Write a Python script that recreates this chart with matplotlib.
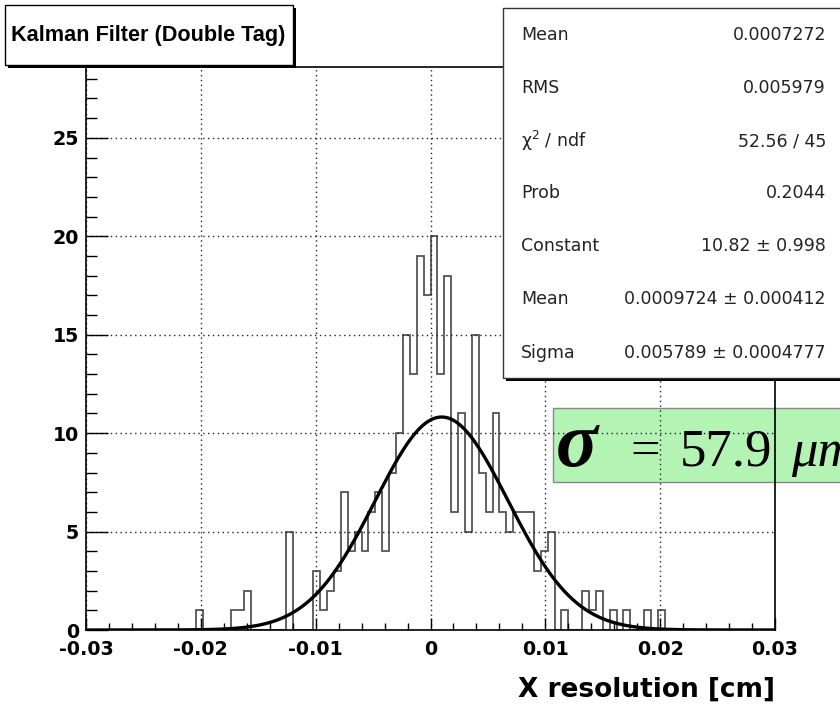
import numpy as np
import matplotlib.pyplot as plt
from matplotlib.patches import Rectangle
from matplotlib.ticker import MultipleLocator

# histogram: 100 bins between -0.03 and 0.03 cm, only the non-empty ones listed
x_lo, x_hi, n_bins = -0.03, 0.03, 100
filled_bins = [16, 21, 22, 23, 29,
               33, 34, 35, 36, 37, 38, 39, 40, 41, 42, 43, 44,
               45, 46, 47, 48, 49, 50, 51, 52,
               53, 54, 55, 56, 57, 58, 59, 60, 61, 62, 63, 64, 65, 66, 67,
               69, 72, 73, 74, 76, 78, 81, 83]
filled_counts = [1, 1, 1, 2, 5,
                 3, 1, 2, 3, 7, 4, 5, 4, 6, 7, 4, 8,
                 10, 15, 13, 19, 17, 20, 13, 18,
                 6, 11, 5, 15, 8, 6, 11, 6, 5, 6, 6, 6, 3, 4, 5,
                 1, 2, 1, 2, 1, 1, 1, 1]

# gaussian fit result
fit_const = 10.82
fit_mean = 0.0009724
fit_sigma = 0.005789

stat_names = ["Mean", "RMS", "χ$^2$ / ndf", "Prob", "Constant", "Mean", "Sigma"]
stat_values = ["0.0007272", "0.005979", "52.56 / 45", "0.2044",
               "10.82 ± 0.998", "0.0009724 ± 0.000412", "0.005789 ± 0.0004777"]

W, H = 840, 705


def fx(x):
    return x / W


def fy(y):
    return 1 - y / H


def box(fig, x0, y0, x1, y1, shadow=3, z=3, **kw):
    # box given in pixels (top-left origin), ROOT style shadow right/bottom
    if shadow:
        fig.patches.append(Rectangle((fx(x0 + shadow), fy(y1 + shadow)),
                                     (x1 - x0) / W, (y1 - y0) / H,
                                     transform=fig.transFigure, facecolor='black',
                                     edgecolor='none', zorder=z))
    fig.patches.append(Rectangle((fx(x0), fy(y1)), (x1 - x0) / W, (y1 - y0) / H,
                                 transform=fig.transFigure, zorder=z + 0.1, **kw))


counts = np.zeros(n_bins)
counts[filled_bins] = filled_counts
edges = np.linspace(x_lo, x_hi, n_bins + 1)

fig = plt.figure(figsize=(8.4, 7.05), dpi=100)
ax = fig.add_axes([86 / W, 1 - 630 / H, (775 - 86) / W, (630 - 67) / H])
ax.set_facecolor('none')

ax.stairs(counts, edges, color='#555555', lw=1.3)
xs = np.linspace(x_lo, x_hi, 800)
ax.plot(xs, fit_const * np.exp(-0.5 * ((xs - fit_mean) / fit_sigma) ** 2),
        color='black', lw=2.4)

ax.set_xlim(x_lo, x_hi)
ax.set_ylim(0, 28.6)
ax.xaxis.set_major_locator(MultipleLocator(0.01))
ax.xaxis.set_minor_locator(MultipleLocator(0.002))
ax.yaxis.set_major_locator(MultipleLocator(5))
ax.yaxis.set_minor_locator(MultipleLocator(1))
ax.grid(True, which='major', color='#222222', lw=1.0, linestyle=(0, (1, 2.5)))
ax.tick_params(axis='both', which='both', direction='in', top=False, right=False,
               width=1.0, labelsize=13.7)
ax.tick_params(axis='x', which='major', length=9, pad=7)
ax.tick_params(axis='x', which='minor', length=5)
ax.tick_params(axis='y', which='major', length=16, pad=5)
ax.tick_params(axis='y', which='minor', length=8)
for lab in ax.get_xticklabels() + ax.get_yticklabels():
    lab.set_fontweight('bold')
ax.xaxis.set_major_formatter(plt.FuncFormatter(lambda v, p: '0' if abs(v) < 1e-9 else '%g' % v))
for s in ax.spines.values():
    s.set_linewidth(1.2)

fig.text(fx(775), fy(697), "X resolution [cm]", ha='right', va='baseline',
         fontsize=19, fontweight='bold')

# title box
box(fig, 5, 5, 293, 65, shadow=3, facecolor='white', edgecolor='black', lw=1)
fig.text(fx(11), fy(35), "Kalman Filter (Double Tag)", ha='left', va='center',
         fontsize=15.6, fontweight='bold', zorder=5, family='Liberation Sans')

# stats box
box(fig, 503, 8, 846, 378, shadow=3, facecolor='white', edgecolor='#333333', lw=1)
row_y = [35, 88, 141, 193, 246, 299, 353]
for name, val, yy in zip(stat_names, stat_values, row_y):
    fig.text(fx(521), fy(yy), name, ha='left', va='center', fontsize=12.5,
             color='#222222', zorder=5)
    fig.text(fx(826), fy(yy), val, ha='right', va='center', fontsize=12.5,
             color='#222222', zorder=5)

# green sigma label (drawn under the frame/grid like the overlay in the original)
fig.patches.append(Rectangle((fx(553), fy(482)), (850 - 553) / W, (482 - 408) / H,
                             transform=fig.transFigure, facecolor='#b3f3b3',
                             edgecolor='#888888', lw=1, zorder=-1))
fig.text(fx(556), fy(466), "σ", ha='left', va='baseline', fontsize=56,
         family='Liberation Serif', fontweight='bold', style='italic', zorder=5)
fig.text(fx(630), fy(466), "=", ha='left', va='baseline', fontsize=38,
         family='Liberation Serif', zorder=5)
fig.text(fx(680), fy(466), "57.9", ha='left', va='baseline', fontsize=38,
         family='Liberation Serif', zorder=5)
fig.text(fx(791), fy(466), "μm", ha='left', va='baseline', fontsize=38,
         family='Liberation Serif', style='italic', zorder=5)

fig.savefig('out.png', dpi=100)
